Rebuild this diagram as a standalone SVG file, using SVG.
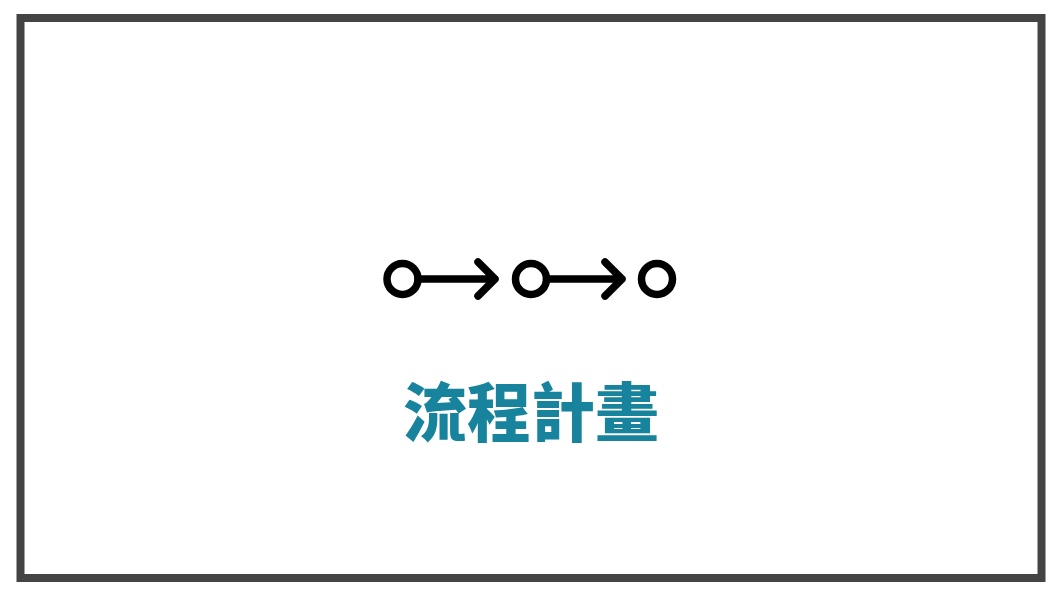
<svg xmlns="http://www.w3.org/2000/svg" width="1060" height="597" viewBox="0 0 1060 597">
<style>
.ic{fill:none;stroke:#000;stroke-width:7.5;stroke-linecap:round;stroke-linejoin:round}
.t{font-family:"Noto Sans CJK TC","Noto Sans CJK SC",sans-serif;font-weight:900;font-size:64px;fill:#18839d}
</style>
<rect width="1060" height="597" fill="#fff"/>
<rect x="20.5" y="18" width="1021" height="560" fill="#fff" stroke="#444" stroke-width="8"/>
<g id="node1"><circle class="ic" cx="402.5" cy="279" r="15.5"/></g>
<g id="node2"><circle class="ic" cx="531" cy="279" r="15.5"/></g>
<g id="node3"><circle class="ic" cx="657" cy="279" r="15.5"/></g>
<g id="connectors">
<path class="ic" d="M418 279H495M478 262L495 279L478 296"/>
<path class="ic" d="M546.5 279H622M605 262L622 279L605 296"/>
</g>
<g id="title"><text class="t" x="531" y="436" text-anchor="middle">流程計畫</text></g>
</svg>
